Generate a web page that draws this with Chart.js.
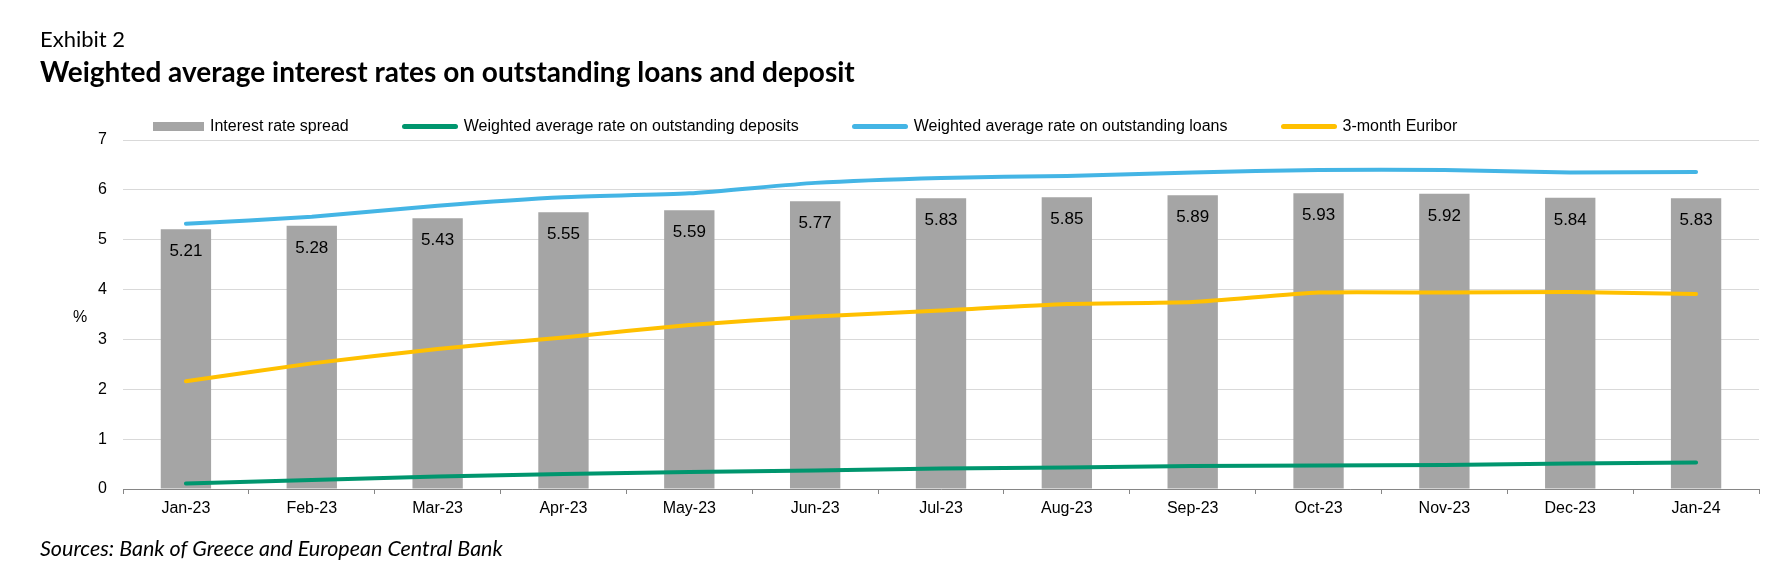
<!DOCTYPE html>
<html>
<head>
<meta charset="utf-8">
<script src="https://cdn.jsdelivr.net/npm/chart.js@4.4.1/dist/chart.umd.min.js"></script>
<style>
  html, body { margin: 0; padding: 0; background: #fff; }
  #wrap { position: relative; width: 1778px; height: 584px; overflow: hidden; }
  #chart { position: absolute; left: 0; top: 0; }
  .txt { position: absolute; white-space: nowrap; color: #000; line-height: normal; }
  #exhibit { left: 40px; top: 25px; font: 22px Lato, sans-serif; }
  #title { left: 40px; top: 54px; font: bold 28px Lato, sans-serif; }
  #source { left: 40px; top: 535px; font: italic 21.5px Lato, sans-serif; }
  #pct { left: 73px; top: 308px; font: 16px "Liberation Sans", Arial, sans-serif; }
  #legend { position: absolute; left: 153px; top: 117px; display: flex; align-items: center;
            font: 16px "Liberation Sans", Arial, sans-serif; color: #000; }
  #legend .item { display: flex; align-items: center; margin-right: 53px; }
  #legend .sw { margin-right: 6px; }
</style>
</head>
<body>
<div id="wrap">
  <canvas id="chart" width="1778" height="584"></canvas>
  <div class="txt" id="exhibit">Exhibit 2</div>
  <div class="txt" id="title">Weighted average interest rates on outstanding loans and deposit</div>
  <div id="legend"></div>
  <div class="txt" id="pct">%</div>
  <div class="txt" id="source">Sources: Bank of Greece and European Central Bank</div>
</div>
<script>
// --- data ---
const months = ['Jan-23', 'Feb-23', 'Mar-23', 'Apr-23', 'May-23', 'Jun-23', 'Jul-23',
                'Aug-23', 'Sep-23', 'Oct-23', 'Nov-23', 'Dec-23', 'Jan-24'];
const spread   = [5.21, 5.28, 5.43, 5.55, 5.59, 5.77, 5.83, 5.85, 5.89, 5.93, 5.92, 5.84, 5.83];
const deposits = [0.11, 0.18, 0.25, 0.30, 0.34, 0.37, 0.41, 0.43, 0.46, 0.47, 0.48, 0.51, 0.53];
const loans    = [5.32, 5.46, 5.68, 5.85, 5.93, 6.14, 6.24, 6.28, 6.35, 6.40, 6.40, 6.35, 6.36];
const euribor  = [2.16, 2.52, 2.81, 3.04, 3.29, 3.46, 3.58, 3.71, 3.75, 3.94, 3.94, 3.95, 3.91];
const yTicks   = [0, 1, 2, 3, 4, 5, 6, 7];

const GREY = '#A5A5A5', GREEN = '#00966E', BLUE = '#44B5E5', YELLOW = '#FFC000';
const FONT = '"Liberation Sans", Arial, sans-serif';

// legend built in html so it can sit where the original one does
const legendItems = [
  { label: 'Interest rate spread', color: GREY, bar: true },
  { label: 'Weighted average rate on outstanding deposits', color: GREEN },
  { label: 'Weighted average rate on outstanding loans', color: BLUE },
  { label: '3-month Euribor', color: YELLOW }
];
const legendEl = document.getElementById('legend');
legendItems.forEach(function (it) {
  const item = document.createElement('div');
  item.className = 'item';
  const sw = document.createElement('span');
  sw.className = 'sw';
  sw.style.background = it.color;
  sw.style.width = it.bar ? '51px' : '56px';
  sw.style.height = it.bar ? '9px' : '5px';
  sw.style.borderRadius = it.bar ? '0' : '3px';
  const tx = document.createElement('span');
  tx.textContent = it.label;
  item.appendChild(sw);
  item.appendChild(tx);
  legendEl.appendChild(item);
});

// values written inside the top of each bar
const barLabels = {
  id: 'barLabels',
  afterDatasetsDraw(chart) {
    const meta = chart.getDatasetMeta(0);
    const ctx = chart.ctx;
    ctx.save();
    ctx.font = '17px ' + FONT;
    ctx.fillStyle = '#000';
    ctx.textAlign = 'center';
    ctx.textBaseline = 'alphabetic';
    meta.data.forEach(function (bar, i) {
      ctx.fillText(spread[i].toFixed(2), bar.x, bar.y + 27);
    });
    ctx.restore();
  }
};

new Chart(document.getElementById('chart'), {
  data: {
    labels: months,
    datasets: [
      { type: 'bar', label: 'Interest rate spread', data: spread, backgroundColor: GREY,
        barPercentage: 0.4, categoryPercentage: 1, order: 10 },
      { type: 'line', label: 'Weighted average rate on outstanding deposits', data: deposits,
        borderColor: GREEN, borderWidth: 4, pointRadius: 0, tension: 0.2, borderCapStyle: 'round', order: 1 },
      { type: 'line', label: 'Weighted average rate on outstanding loans', data: loans,
        borderColor: BLUE, borderWidth: 4, pointRadius: 0, tension: 0.2, borderCapStyle: 'round', order: 1 },
      { type: 'line', label: '3-month Euribor', data: euribor,
        borderColor: YELLOW, borderWidth: 4, pointRadius: 0, tension: 0.2, borderCapStyle: 'round', order: 1 }
    ]
  },
  options: {
    responsive: false,
    animation: false,
    layout: { padding: { left: 0, top: 140, right: 19, bottom: 0 } },
    plugins: {
      legend: { display: false },
      tooltip: { enabled: false }
    },
    scales: {
      x: {
        offset: true,
        grid: { display: true, drawOnChartArea: false, drawTicks: true, tickLength: 5,
                color: '#868686', offset: true },
        border: { display: true, color: '#868686', width: 1 },
        ticks: { color: '#000', font: { family: FONT, size: 16 }, padding: 5,
                 maxRotation: 0, autoSkip: false },
        afterFit(scale) { scale.height = 95; }
      },
      y: {
        min: yTicks[0],
        max: yTicks[yTicks.length - 1],
        afterBuildTicks(scale) { scale.ticks = yTicks.map(v => ({ value: v })); },
        grid: { color: '#D9D9D9', lineWidth: 1, drawTicks: false },
        border: { display: false },
        ticks: { color: '#000', font: { family: FONT, size: 16 }, padding: 16 },
        afterFit(scale) { scale.width = 123; }
      }
    }
  },
  plugins: [barLabels]
});
</script>
</body>
</html>
